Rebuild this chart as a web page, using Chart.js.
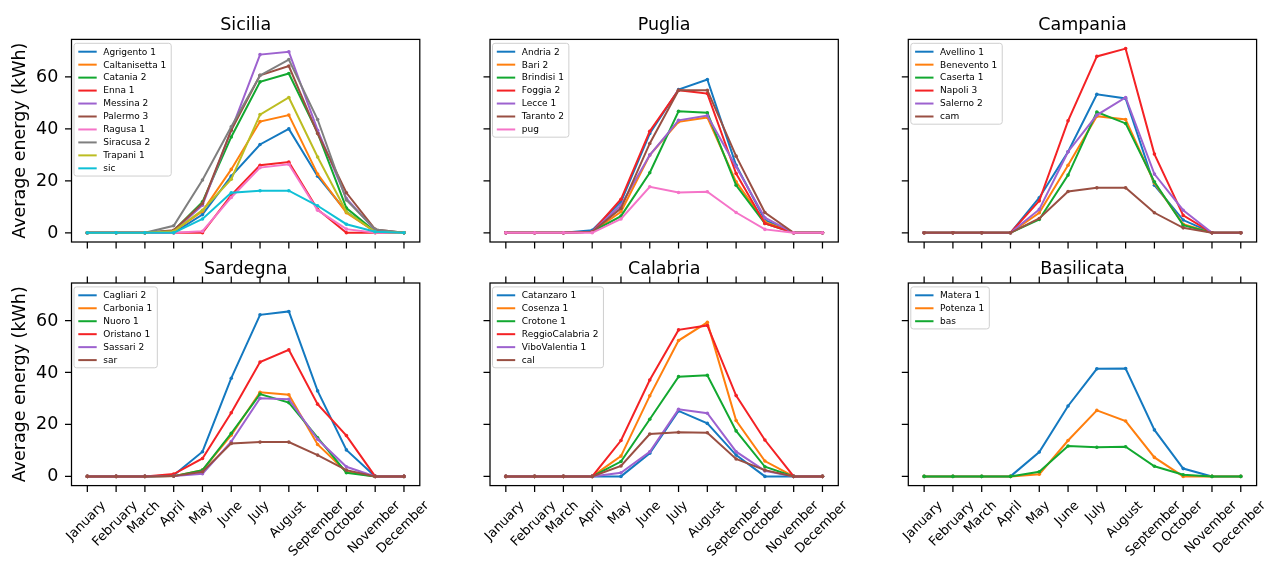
<!DOCTYPE html>
<html>
<head>
<meta charset="utf-8">
<script src="https://cdn.jsdelivr.net/npm/chart.js@4.4.1/dist/chart.umd.min.js"></script>
<style>
  html, body { margin: 0; padding: 0; background: #fff; }
  #fig { position: relative; width: 1264px; height: 561px; overflow: hidden; }
  #fig canvas { position: absolute; }
</style>
</head>
<body>
<div id="fig"></div>
<script>
const months = ['January', 'February', 'March', 'April', 'May', 'June', 'July',
  'August', 'September', 'October', 'November', 'December'];
const yTicks = [0, 20, 40, 60];
const Y_MIN = -3.55;
const Y_MAX = 74.45;

const siciliaNames = ['Agrigento 1', 'Caltanisetta 1', 'Catania 2', 'Enna 1', 'Messina 2',
  'Palermo 3', 'Ragusa 1', 'Siracusa 2', 'Trapani 1', 'sic'];
const siciliaValues = [
  [0, 0, 0, 0, 7.0, 21.8, 34.0, 40.0, 21.8, 8.1, 0.4, 0],
  [0, 0, 0, 0.6, 8.3, 24.4, 42.8, 45.3, 22.6, 7.7, 0.4, 0],
  [0, 0, 0, 0.8, 11.9, 36.9, 58.1, 61.3, 38.5, 9.5, 0.5, 0],
  [0, 0, 0, 0, 0, 14.5, 26.0, 27.2, 9.0, 0, 0, 0],
  [0, 0, 0, 0.6, 10.6, 39.5, 68.6, 69.7, 39.5, 13.2, 1.0, 0],
  [0, 0, 0, 1.0, 11.3, 39.5, 60.6, 64.2, 38.2, 15.4, 1.3, 0],
  [0, 0, 0, 0, 0.6, 13.6, 25.1, 26.4, 8.7, 1.4, 0, 0],
  [0, 0, 0, 2.7, 20.3, 40.8, 60.6, 66.7, 43.6, 12.6, 1.3, 0],
  [0, 0, 0, 0.6, 8.7, 20.6, 45.5, 52.1, 29.2, 8.1, 0.4, 0],
  [0, 0, 0, 0, 5.3, 15.4, 16.2, 16.2, 10.4, 3.3, 0.4, 0],
];

const pugliaNames = ['Andria 2', 'Bari 2', 'Brindisi 1', 'Foggia 2', 'Lecce 1', 'Taranto 2', 'pug'];
const pugliaValues = [
  [0, 0, 0, 1.0, 11.9, 38.2, 55.1, 59.0, 26.0, 4.9, 0, 0],
  [0, 0, 0, 0.4, 8.1, 29.9, 42.7, 44.4, 19.6, 4.2, 0, 0],
  [0, 0, 0, 0.4, 6.4, 23.1, 46.8, 46.2, 18.3, 3.6, 0, 0],
  [0, 0, 0, 0.4, 12.9, 39.1, 54.9, 53.6, 22.8, 3.6, 0, 0],
  [0, 0, 0, 0.4, 10.6, 29.9, 43.3, 45.1, 25.4, 5.8, 0, 0],
  [0, 0, 0, 0.4, 9.4, 34.4, 54.9, 54.9, 29.5, 7.8, 0, 0],
  [0, 0, 0, 0, 5.3, 17.7, 15.5, 15.8, 7.8, 1.3, 0, 0],
];

const campaniaNames = ['Avellino 1', 'Benevento 1', 'Caserta 1', 'Napoli 3', 'Salerno 2', 'cam'];
const campaniaValues = [
  [0, 0, 0, 0, 13.5, 31.2, 53.3, 51.7, 18.3, 4.9, 0, 0],
  [0, 0, 0, 0, 7.7, 26.0, 44.9, 43.6, 19.2, 3.3, 0, 0],
  [0, 0, 0, 0, 5.1, 22.2, 46.5, 42.1, 19.6, 2.9, 0, 0],
  [0, 0, 0, 0, 12.3, 43.1, 67.9, 70.9, 30.3, 6.7, 0, 0],
  [0, 0, 0, 0, 9.0, 31.2, 45.3, 52.1, 22.6, 8.7, 0, 0],
  [0, 0, 0, 0, 5.5, 15.9, 17.3, 17.3, 7.7, 1.9, 0, 0],
];

const sardegnaNames = ['Cagliari 2', 'Carbonia 1', 'Nuoro 1', 'Oristano 1', 'Sassari 2', 'sar'];
const sardegnaValues = [
  [0, 0, 0, 0.4, 9.5, 37.8, 62.2, 63.5, 32.9, 10.2, 0, 0],
  [0, 0, 0, 0.1, 2.4, 15.9, 32.4, 31.4, 12.3, 1.8, 0, 0],
  [0, 0, 0, 0.1, 2.4, 16.6, 31.7, 28.4, 14.9, 1.4, 0, 0],
  [0, 0, 0, 0.9, 6.9, 24.5, 44.0, 48.7, 27.8, 15.7, 0, 0],
  [0, 0, 0, 0.1, 1.0, 13.4, 30.1, 29.7, 14.3, 3.7, 0, 0],
  [0, 0, 0, 0.1, 1.8, 12.7, 13.2, 13.2, 8.2, 2.4, 0, 0],
];

const calabriaNames = ['Catanzaro 1', 'Cosenza 1', 'Crotone 1', 'ReggioCalabria 2', 'ViboValentia 1', 'cal'];
const calabriaValues = [
  [0, 0, 0, 0, 0, 8.9, 25.2, 20.4, 8.2, 0, 0, 0],
  [0, 0, 0, 0, 7.8, 31.0, 52.3, 59.3, 21.5, 5.9, 0, 0],
  [0, 0, 0, 0, 5.7, 22.0, 38.4, 38.9, 17.5, 3.7, 0, 0],
  [0, 0, 0, 0, 13.8, 37.1, 56.4, 58.1, 31.1, 14.0, 0, 0],
  [0, 0, 0, 0, 1.4, 9.5, 25.8, 24.3, 9.5, 2.1, 0, 0],
  [0, 0, 0, 0, 4.0, 16.3, 17.0, 16.8, 6.7, 2.4, 0, 0],
];

const basilicataNames = ['Matera 1', 'Potenza 1', 'bas'];
const basilicataValues = [
  [0, 0, 0, 0, 9.4, 27.1, 41.4, 41.5, 17.9, 3.0, 0, 0],
  [0, 0, 0, 0, 0.8, 13.8, 25.4, 21.3, 7.3, 0, 0, 0],
  [0, 0, 0, 0, 1.8, 11.7, 11.2, 11.4, 3.9, 0.6, 0, 0],
];

// matplotlib-like cycle
const palette = ['#1479c0', '#ff7f0e', '#12a830', '#f42225', '#9d62cf',
  '#994f42', '#f574c8', '#7f7f7f', '#bcbd22', '#0fc0d6'];

const FONT = '"DejaVu Sans", sans-serif';

// axes boxes in page pixels
const COL_X = [71.5, 490, 908.3];
const ROW_Y = [39.4, 283];
const BOX_W = 348.3;
const BOX_H = 202.6;
// canvas cells around each box
const CELL_X = [0, 455, 873, 1264];
const CELL_Y = [0, 256, 561];

const panels = [
  { title: 'Sicilia', names: siciliaNames, values: siciliaValues, row: 0, col: 0 },
  { title: 'Puglia', names: pugliaNames, values: pugliaValues, row: 0, col: 1 },
  { title: 'Campania', names: campaniaNames, values: campaniaValues, row: 0, col: 2 },
  { title: 'Sardegna', names: sardegnaNames, values: sardegnaValues, row: 1, col: 0 },
  { title: 'Calabria', names: calabriaNames, values: calabriaValues, row: 1, col: 1 },
  { title: 'Basilicata', names: basilicataNames, values: basilicataValues, row: 1, col: 2 },
];

const TICK_LEN = 6.5;

const drawLegend = (ctx, a, names) => {
  ctx.save();
  ctx.font = '9px ' + FONT;
  const lx = a.left + 2.5;
  const ly = a.top + 3.9;
  const rowH = 12.96;
  const maxW = Math.max(...names.map(n => ctx.measureText(n).width));
  const w = 29.3 + maxW + 5;
  const h = 8.4 + (names.length - 1) * rowH + 7.7;
  ctx.beginPath();
  ctx.roundRect(lx, ly, w, h, 2.5);
  ctx.fillStyle = 'rgba(255,255,255,0.8)';
  ctx.fill();
  ctx.strokeStyle = '#cfcfcf';
  ctx.lineWidth = 1;
  ctx.stroke();
  names.forEach((name, i) => {
    const cy = ly + 8.4 + i * rowH;
    ctx.beginPath();
    ctx.moveTo(lx + 4.3, cy);
    ctx.lineTo(lx + 22.7, cy);
    ctx.strokeStyle = palette[i];
    ctx.lineWidth = 2;
    ctx.stroke();
    ctx.fillStyle = '#000';
    ctx.textAlign = 'left';
    ctx.textBaseline = 'middle';
    ctx.fillText(name, lx + 29.3, cy + 0.5);
  });
  ctx.restore();
};

// frame, ticks, labels, title and legend on top of the lines
const axesDecor = {
  id: 'axesDecor',
  afterDatasetsDraw(chart, args, opts) {
    const { ctx, chartArea: a, scales: { x, y } } = chart;
    ctx.save();
    ctx.strokeStyle = '#000';
    ctx.lineWidth = 1.25;
    ctx.strokeRect(a.left, a.top, a.width, a.height);

    ctx.beginPath();
    months.forEach((m, i) => {
      const px = x.getPixelForValue(i);
      ctx.moveTo(px, a.bottom);
      ctx.lineTo(px, a.bottom + TICK_LEN);
      if (opts.row === 1) {
        ctx.moveTo(px, a.top);
        ctx.lineTo(px, a.top - TICK_LEN);
      }
    });
    yTicks.forEach(v => {
      const py = y.getPixelForValue(v);
      ctx.moveTo(a.left - TICK_LEN, py);
      ctx.lineTo(a.left, py);
    });
    ctx.stroke();

    ctx.fillStyle = '#000';
    if (opts.col === 0) {
      ctx.font = '17.5px ' + FONT;
      ctx.textAlign = 'right';
      ctx.textBaseline = 'middle';
      yTicks.forEach(v => {
        ctx.fillText(String(v), a.left - 13.2, y.getPixelForValue(v) + 0.5);
      });
      ctx.save();
      ctx.translate(a.left - 47, (a.top + a.bottom) / 2);
      ctx.rotate(-Math.PI / 2);
      ctx.textAlign = 'center';
      ctx.textBaseline = 'alphabetic';
      ctx.fillText('Average energy (kWh)', 0, 0);
      ctx.restore();
    }

    if (opts.row === 1) {
      // 45 degree labels, rotated box centred under the tick
      const fs = 13;
      ctx.font = fs + 'px ' + FONT;
      ctx.textAlign = 'center';
      ctx.textBaseline = 'middle';
      const top = a.bottom + 13;
      months.forEach((m, i) => {
        const px = x.getPixelForValue(i) - 1;
        const side = (ctx.measureText(m).width + fs * 1.1) / Math.SQRT2;
        ctx.save();
        ctx.translate(px, top + side / 2);
        ctx.rotate(-Math.PI / 4);
        ctx.fillText(m, 0, 0);
        ctx.restore();
      });
    }

    ctx.font = '17.5px ' + FONT;
    ctx.textAlign = 'center';
    ctx.textBaseline = 'alphabetic';
    ctx.fillText(opts.title, (a.left + a.right) / 2, a.top - 9.5);

    drawLegend(ctx, a, opts.names);
    ctx.restore();
  },
};

const fig = document.getElementById('fig');

panels.forEach(p => {
  const cx = CELL_X[p.col];
  const cy = CELL_Y[p.row];
  const cw = CELL_X[p.col + 1] - cx;
  const ch = CELL_Y[p.row + 1] - cy;
  const canvas = document.createElement('canvas');
  canvas.width = cw;
  canvas.height = ch;
  canvas.style.left = cx + 'px';
  canvas.style.top = cy + 'px';
  canvas.style.width = cw + 'px';
  canvas.style.height = ch + 'px';
  fig.appendChild(canvas);

  const left = COL_X[p.col] - cx;
  const top = ROW_Y[p.row] - cy;

  new Chart(canvas, {
    type: 'line',
    data: {
      datasets: p.values.map((vals, i) => ({
        label: p.names[i],
        data: vals.map((v, k) => ({ x: k, y: v })),
        borderColor: palette[i],
        backgroundColor: palette[i],
        borderWidth: 2,
        pointRadius: 1.8,
        pointBorderWidth: 0,
        pointHoverRadius: 0,
        tension: 0,
        order: p.values.length - i,
      })),
    },
    plugins: [axesDecor],
    options: {
      responsive: false,
      animation: false,
      devicePixelRatio: 1,
      layout: {
        padding: {
          left: left,
          top: top,
          right: cw - left - BOX_W,
          bottom: ch - top - BOX_H,
        },
      },
      scales: {
        x: { type: 'linear', min: -0.55, max: 11.55, display: false },
        y: { type: 'linear', min: Y_MIN, max: Y_MAX, display: false },
      },
      plugins: {
        legend: { display: false },
        tooltip: { enabled: false },
        axesDecor: { title: p.title, names: p.names, row: p.row, col: p.col },
      },
    },
  });
});
</script>
</body>
</html>
